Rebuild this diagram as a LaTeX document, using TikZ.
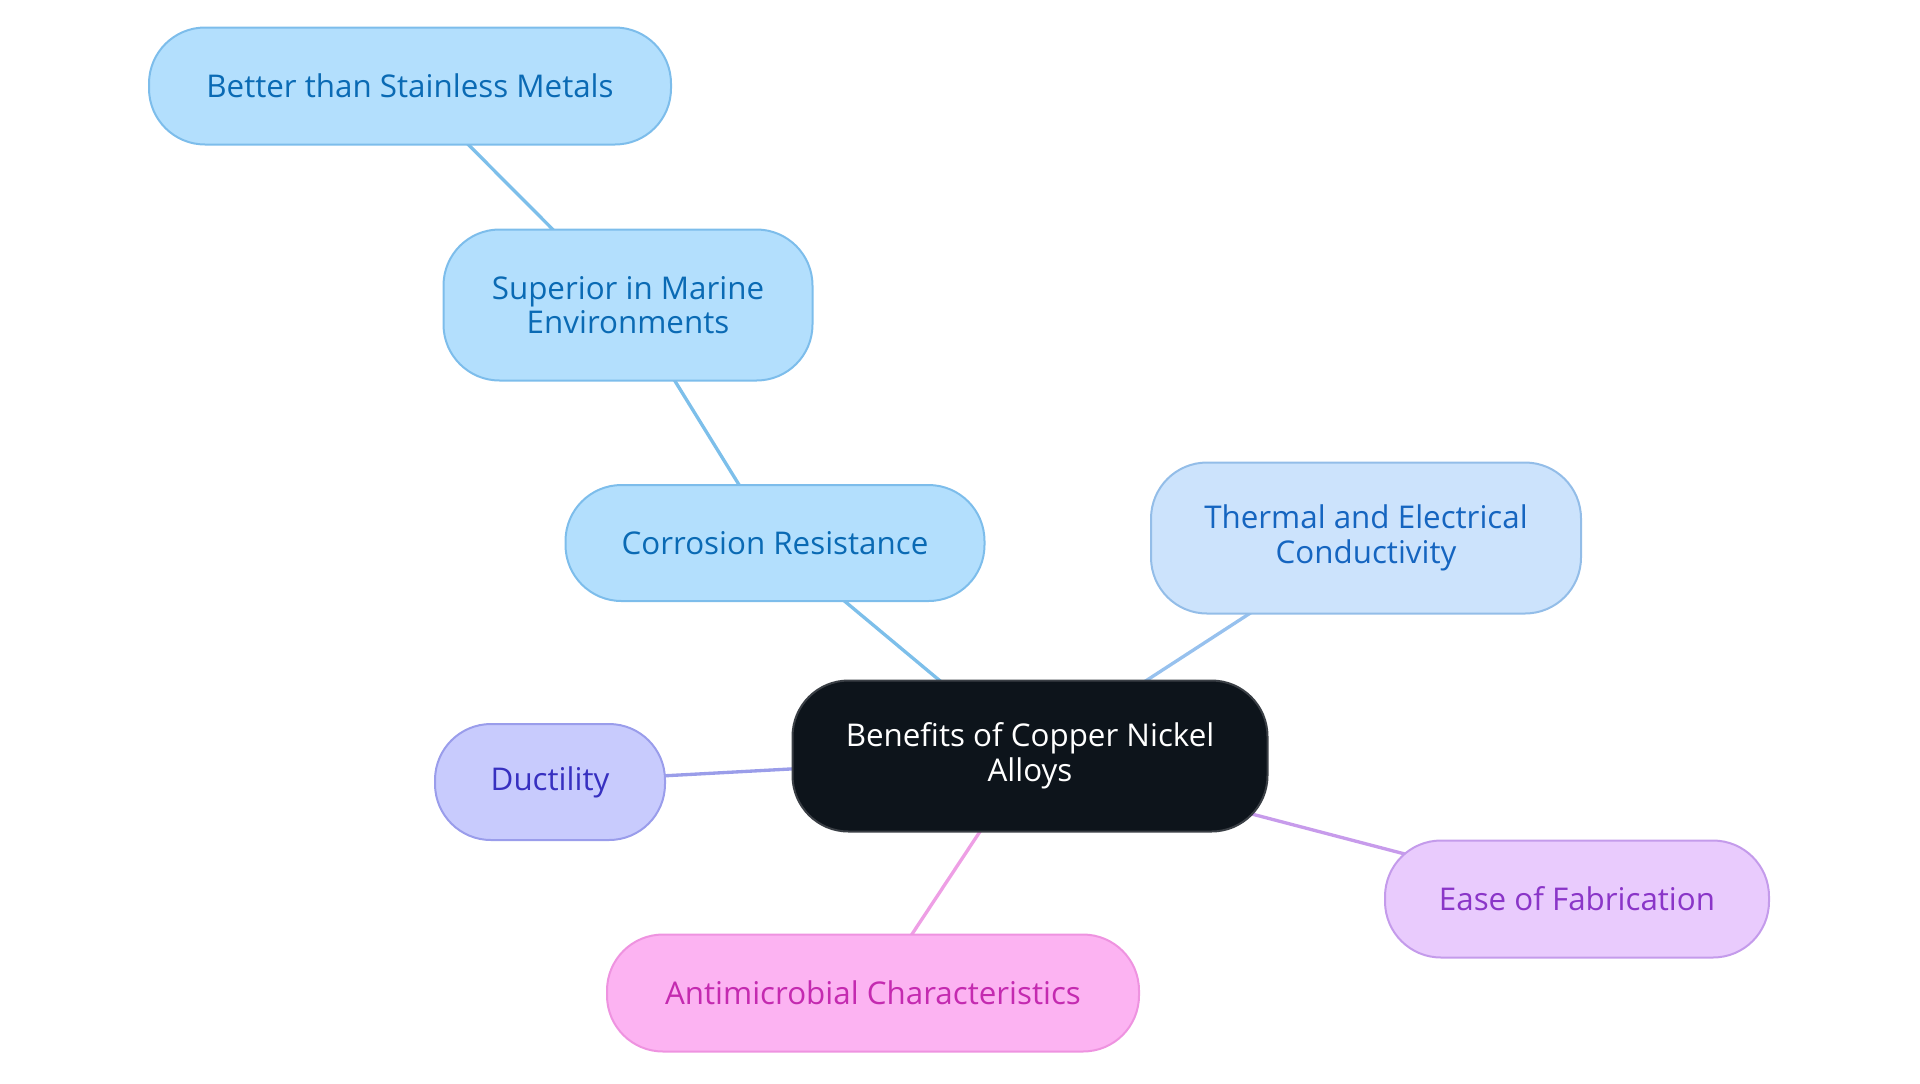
\documentclass[tikz,border=0pt]{standalone}
\usepackage{fontspec}
\setmainfont{Open Sans}
\usetikzlibrary{backgrounds}
\definecolor{blueFill}{HTML}{B3DFFD}
\definecolor{blueDraw}{HTML}{7DBDEB}
\definecolor{blueText}{HTML}{0A6AB4}
\definecolor{thFill}{HTML}{CCE3FC}
\definecolor{thDraw}{HTML}{93BDE8}
\definecolor{thText}{HTML}{1565C0}
\definecolor{ctFill}{HTML}{0D141B}
\definecolor{ctDraw}{HTML}{3A3F45}
\definecolor{duFill}{HTML}{C8CBFD}
\definecolor{duDraw}{HTML}{9A9DEB}
\definecolor{duText}{HTML}{3730C0}
\definecolor{eaFill}{HTML}{E9CBFD}
\definecolor{eaDraw}{HTML}{C49BEB}
\definecolor{eaText}{HTML}{8A35C8}
\definecolor{anFill}{HTML}{FCB3F2}
\definecolor{anDraw}{HTML}{EE93E0}
\definecolor{anText}{HTML}{C42AB0}
\definecolor{blueLine}{HTML}{7DBFEA}
\definecolor{thLine}{HTML}{97C1EE}
\definecolor{duLine}{HTML}{9A9DE9}
\definecolor{eaLine}{HTML}{C79BEB}
\definecolor{anLine}{HTML}{EE9FE5}
\tikzset{
  pill/.style={draw, line width=1.5pt, rounded corners=42pt, inner sep=0pt, align=center,
    font=\fontsize{23.5}{26}\selectfont},
  bluebox/.style={pill, fill=blueFill, draw=blueDraw, text=blueText},
  thbox/.style={pill, fill=thFill, draw=thDraw, text=thText},
  ctbox/.style={pill, fill=ctFill, draw=ctDraw, text=white},
  dubox/.style={pill, fill=duFill, draw=duDraw, text=duText},
  eabox/.style={pill, fill=eaFill, draw=eaDraw, text=eaText},
  anbox/.style={pill, fill=anFill, draw=anDraw, text=anText},
  link/.style={line width=2.5pt}
}
\begin{document}
\begin{tikzpicture}[x=0.75pt,y=-0.75pt]
\useasboundingbox (0,0) rectangle (1920,1083);
\node[bluebox, minimum width=391.5pt, minimum height=87.75pt] (better) at (410,86) {Better than Stainless Metals};
\node[bluebox, minimum width=276.75pt, minimum height=113.25pt] (superior) at (628,305) {Superior in Marine\\Environments};
\node[bluebox, minimum width=314.25pt, minimum height=87pt] (corrosion) at (775,543) {Corrosion Resistance};
\node[thbox, minimum width=322.5pt, minimum height=113.25pt] (thermal) at (1366,538) {Thermal and Electrical\\Conductivity};
\node[ctbox, minimum width=356.25pt, minimum height=113.25pt] (center) at (1030,756) {Benefits of Copper Nickel\\Alloys};
\node[dubox, minimum width=172.5pt, minimum height=87pt] (ductility) at (550,782) {Ductility};
\node[eabox, minimum width=288pt, minimum height=87.75pt] (ease) at (1577,899) {Ease of Fabrication};
\node[anbox, minimum width=399pt, minimum height=87.75pt] (anti) at (873,993) {Antimicrobial Characteristics};
\begin{scope}[on background layer]
\draw[link, blueLine] (better.center) -- (superior.center);
\draw[link, blueLine] (superior.center) -- (corrosion.center);
\draw[link, blueLine] (corrosion.center) -- (center.center);
\draw[link, thLine] (thermal.center) -- (center.center);
\draw[link, duLine] (ductility.center) -- (center.center);
\draw[link, eaLine] (center.center) -- (ease.center);
\draw[link, anLine] (center.center) -- (anti.center);
\end{scope}
\end{tikzpicture}
\end{document}
